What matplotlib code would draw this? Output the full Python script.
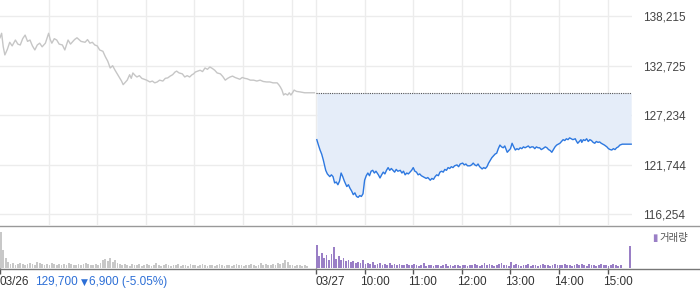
import matplotlib
matplotlib.use("Agg")
import matplotlib.pyplot as plt
from matplotlib.lines import Line2D
import numpy as np

# --- data (minutes since 09:00 of 03/26; 03/27 starts at 390) ---
prev_close = 129700
y_ticks = [116254, 121744, 127234, 132725, 138215]

d1_min = [0, 2, 4, 6, 9, 12, 15, 19, 22, 25, 28, 31, 34, 37, 40, 43, 46, 49, 52, 56,
          60, 62, 64, 67, 70, 73, 77, 80, 84, 87, 89, 92, 95, 100, 105, 108, 111, 114, 117, 120,
          123, 127, 130, 133, 136, 139, 142, 144, 146, 148, 150, 152, 155, 157, 160, 162, 164, 167, 169, 172,
          175, 178, 181, 185, 188, 191, 194, 197, 201, 204, 207, 210, 213, 216, 218, 221, 225, 228, 231, 234,
          237, 239, 241, 244, 247, 250, 253, 256, 259, 262, 265, 268, 272, 275, 278, 281, 284, 287, 290, 293,
          296, 299, 302, 305, 309, 313, 317, 321, 325, 329, 333, 337, 342, 344, 346, 348, 350, 352, 355, 357,
          359, 361, 363, 366, 370, 373, 376, 380, 384, 388]
d1_px = [135800, 136300, 134800, 133900, 134500, 135300, 134900, 135550, 135100, 135000, 135700, 136100, 135400, 135550, 134900, 134450, 135000, 135200, 134800, 135200,
         136300, 135600, 135200, 135700, 135550, 135100, 135000, 134450, 135550, 135100, 135300, 135600, 135800, 135400, 135300, 135600, 135200, 135300, 135000, 134900,
         134450, 134300, 133700, 133200, 132450, 132700, 132200, 131900, 131600, 131300, 131000, 130600, 130900, 131100, 131700, 131300, 131900, 131600, 131450, 131600,
         131300, 131200, 131100, 130900, 131000, 130800, 130900, 131100, 131000, 131300, 131350, 131550, 131700, 132000, 132100, 131900, 131800, 131450, 131600, 131450,
         131700, 131800, 132000, 132100, 132200, 132050, 132450, 132300, 132560, 132400, 132200, 131900, 131800, 131500, 131100, 131300, 131450, 131550, 131400, 131300,
         131200, 131400, 131300, 131250, 131100, 131100, 131000, 131100, 130950, 130900, 130900, 130800, 130800, 130600, 130340, 130000, 129450, 129600, 129450, 129700,
         129450, 129700, 130000, 129850, 129800, 129750, 129700, 129700, 129700, 129700]

d2_min = [391, 393, 395, 397, 399, 401, 402, 404, 407, 409, 411, 413, 415, 417, 419, 421, 423, 425, 428, 430,
          432, 434, 436, 438, 440, 442, 444, 446, 448, 450, 452, 454, 456, 458, 460, 462, 464, 467, 469, 471,
          473, 475, 477, 479, 481, 483, 485, 487, 489, 491, 494, 496, 498, 500, 502, 504, 506, 508, 510, 512,
          514, 516, 518, 520, 522, 524, 526, 528, 531, 533, 535, 537, 539, 541, 543, 545, 547, 549, 551, 553,
          555, 557, 559, 561, 564, 566, 568, 571, 573, 575, 577, 580, 582, 584, 586, 588, 590, 592, 595, 597,
          599, 601, 603, 605, 607, 609, 611, 613, 615, 617, 619, 621, 623, 626, 628, 630, 632, 634, 636, 638,
          640, 642, 644, 646, 648, 650, 652, 654, 656, 658, 660, 662, 664, 666, 668, 670, 673, 675, 677, 679,
          681, 683, 685, 687, 689, 691, 693, 695, 697, 699, 701, 703, 705, 707, 710, 711, 713, 715, 717, 718,
          720, 722, 724, 726, 728, 730, 732, 734, 736, 738, 740, 742, 744, 746, 749, 751, 753, 755, 757, 759,
          761, 763, 765, 768, 773, 779]
d2_px = [124500, 123900, 123350, 122900, 122250, 121500, 121100, 120700, 120400, 120600, 120400, 119700, 119800, 119500, 119900, 120800, 120400, 119900, 119300, 119500,
         119100, 118800, 118400, 118600, 118200, 118100, 118300, 118200, 118500, 120000, 120500, 120800, 120500, 121000, 121100, 120800, 121000, 120600, 120250, 120600,
         120900, 120700, 121100, 121400, 121100, 121300, 121100, 120900, 121200, 121000, 121100, 120800, 121000, 120600, 120800, 120700, 120900, 121100, 121400, 121000,
         120900, 120600, 120700, 120500, 120400, 120300, 120200, 120300, 120000, 120200, 120100, 120400, 120600, 120500, 120900, 121000, 120900, 121200, 121100, 121400,
         121300, 121500, 121400, 121600, 121700, 121500, 121800, 121900, 121700, 121800, 121600, 121600, 121700, 121900, 121700, 121600, 121800, 121500, 121250, 121400,
         121300, 121500, 121900, 122200, 122500, 122700, 122900, 123000, 123500, 123900, 123700, 123600, 123800, 123100, 123300, 123500, 124100, 123700, 123350, 123500,
         123400, 123600, 123500, 123700, 123600, 123700, 123800, 123600, 123700, 123700, 123500, 123700, 123600, 123600, 123400, 123500, 123700, 123600, 123400, 123300,
         123100, 123400, 123700, 123900, 124000, 124100, 124300, 124500, 124400, 124600, 124500, 124700, 124600, 124500, 124600, 124400, 124100, 124300, 124500, 124200,
         124500, 124400, 124600, 124300, 124500, 124400, 124200, 124100, 124300, 124200, 124250, 124100, 124000, 123900, 123700, 123500, 123400, 123350, 123500, 123400,
         123600, 123700, 123900, 124000, 124000, 124000]

# volume, one bar every 3 minutes
vol_d1 = [36, 18, 10, 6, 4, 5, 3, 4, 5, 4, 3, 4, 5, 4, 3, 6, 5, 4, 3, 4,
          3, 5, 4, 3, 4, 3, 4, 3, 5, 4, 3, 3, 4, 3, 4, 5, 4, 3, 3, 4,
          3, 5, 8, 9, 7, 10, 6, 8, 5, 4, 3, 4, 3, 2, 4, 3, 3, 4, 2, 3,
          4, 3, 2, 3, 5, 3, 2, 3, 4, 3, 2, 3, 3, 4, 2, 3, 3, 2, 4, 3,
          3, 2, 3, 4, 3, 2, 3, 3, 2, 3, 4, 3, 2, 3, 3, 2, 3, 4, 3, 3,
          2, 3, 3, 4, 3, 2, 3, 5, 3, 4, 3, 3, 4, 3, 5, 4, 5, 8, 6, 3,
          3, 2, 3, 3, 2, 3, 2, 0, 0, 0]
vol_d2 = [23, 12, 15, 10, 13, 8, 14, 21, 9, 12, 8, 10, 7, 8, 6, 7, 5, 6, 5, 8,
          4, 5, 4, 6, 3, 4, 5, 3, 4, 3, 5, 3, 4, 3, 4, 3, 3, 4, 3, 3,
          4, 3, 2, 3, 5, 2, 3, 3, 2, 3, 3, 2, 3, 4, 2, 3, 2, 3, 3, 2,
          3, 3, 2, 3, 3, 4, 3, 2, 3, 5, 3, 4, 3, 2, 3, 4, 5, 3, 3, 2,
          6, 3, 4, 3, 2, 3, 3, 4, 2, 3, 3, 2, 3, 4, 3, 3, 2, 3, 4, 3,
          3, 3, 4, 3, 3, 2, 3, 4, 3, 4, 3, 2, 4, 3, 3, 2, 3, 4, 3, 3,
          2, 3, 4, 3, 2, 3, 0, 0, 0, 22]

hour_ticks = [450, 510, 570, 630, 690, 750]
hour_labels = ["10:00", "11:00", "12:00", "13:00", "14:00", "15:00"]

W, H = 700, 289
PW = 632  # plot width in px
fig = plt.figure(figsize=(7, 2.89), dpi=100)
plt.rcParams['font.family'] = ['Liberation Sans', 'DejaVu Sans']

def box(x0, y0, x1, y1):
    return [x0 / W, 1 - y1 / H, (x1 - x0) / W, (y1 - y0) / H]

ax = fig.add_axes(box(0, 0, PW, 225))
axv = fig.add_axes(box(0, 226, PW, 268))

# price panel
ax.set_xlim(0, 780)
ax.set_ylim(115034, 139990)
for yt in y_ticks:
    ax.axhline(yt, color="#ececec", lw=1, zorder=0)
for xm in [60, 120, 180, 240, 300, 360, 390] + hour_ticks:
    ax.axvline(xm, color="#ececec", lw=1, zorder=0)

ax.plot(d1_min, d1_px, color="#c6c6c6", lw=1)
ax.fill_between(d2_min, d2_px, prev_close, color="#e5edf9", lw=0)
ax.plot([390, 780], [prev_close, prev_close], color="#555555", lw=0.8, ls=(0, (1, 1)))
ax.plot(d2_min, d2_px, color="#2d78e0", lw=1)

ax.yaxis.tick_right()
ax.set_yticks(y_ticks)
ax.set_yticklabels([f"{v:,}" for v in y_ticks])
ax.tick_params(axis="y", length=0, pad=8, labelsize=8.5, labelcolor="#444444")
ax.set_xticks([])
for s in ax.spines.values():
    s.set_visible(False)

# volume panel
x_d1 = np.arange(len(vol_d1)) * 3 + 1
x_d2 = 390 + np.arange(len(vol_d2)) * 3 + 1
axv.bar(x_d1, vol_d1, width=2.2, color="#c8c8c8", lw=0)
axv.bar(x_d2, vol_d2, width=2.2, color="#9a7fc6", lw=0)
axv.set_xlim(0, 780)
axv.set_ylim(0, 42)
axv.set_yticks([])
axv.set_xticks([0, 390] + hour_ticks)
axv.set_xticklabels([])
axv.tick_params(axis="x", direction="out", length=4, width=1, color="#555555")
for s in axv.spines.values():
    s.set_visible(False)

fig.add_artist(Line2D([0, 1], [1 - 225.5 / H] * 2, color="#999999", lw=1))
fig.add_artist(Line2D([0, 1], [1 - 268.5 / H] * 2, color="#777777", lw=1))

# bottom labels
ty = 1 - 282 / H
fig.text(0 / W, ty, "03/26", fontsize=8.5, color="#333333", va="center")
fig.text(35 / W, ty, "129,700", fontsize=8.5, color="#2d6fd6", va="center")
fig.text(81 / W, ty, "▼", fontsize=6.5, color="#2d6fd6", va="center",
         family=["DejaVu Sans"])
fig.text(89 / W, ty, "6,900 (-5.05%)", fontsize=8.5, color="#2d6fd6", va="center")
fig.text(316 / W, ty, "03/27", fontsize=8.5, color="#333333", va="center")
for m, lab in zip(hour_ticks, hour_labels):
    fig.text((m * PW / 780 - 5) / W, ty, lab, fontsize=8.5, color="#333333", va="center")

# legend
fig.text(652 / W, 1 - 238 / H, "▮", fontsize=7, color="#9a7fc6", va="center",
         family=["DejaVu Sans"])
fig.text(659 / W, 1 - 238 / H, "거래량", fontsize=7.5, color="#555555", va="center",
         family=["Noto Sans CJK KR", "DejaVu Sans"])

fig.savefig("out.png", dpi=100)
